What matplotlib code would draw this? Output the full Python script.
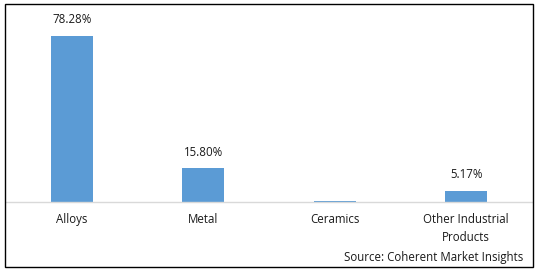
import matplotlib
matplotlib.use("Agg")
import matplotlib.pyplot as plt
from matplotlib.patches import Rectangle

categories = ["Alloys", "Metal", "Ceramics", "Other Industrial\nProducts"]
shares = [78.28, 15.80, 0.6, 5.17]
labels = ["78.28%", "15.80%", "", "5.17%"]

plt.rcParams['font.family'] = ['Open Sans', 'DejaVu Sans']

W, H = 538, 272
fig = plt.figure(figsize=(W / 100, H / 100), dpi=100)

# axes: baseline at y=202px, spans x 6..532
ax = fig.add_axes([6 / W, 1 - 202 / H, 526 / W, 182 / H])
x = range(len(categories))
bars = ax.bar(x, shares, width=0.32, color="#5b9bd5")
ax.set_xlim(-0.5, 3.5)
ax.set_ylim(0, 78.28 * 182 / 166)

for b, lab in zip(bars, labels):
    if lab:
        ax.text(b.get_x() + b.get_width() / 2, b.get_height() + 4.5, lab,
                ha="center", va="bottom", fontsize=8.3, color="#1a1a1a")

ax.set_xticks(list(x))
ax.set_xticklabels(categories, fontsize=8.3, color="#1a1a1a", linespacing=1.45)
ax.tick_params(axis="x", length=0, pad=8)
ax.set_yticks([])
for s in ["top", "right", "left"]:
    ax.spines[s].set_visible(False)
ax.spines["bottom"].set_color("#d9d9d9")
ax.spines["bottom"].set_linewidth(1)

fig.text(523 / W, 1 - 257 / H, "Source: Coherent Market Insights",
         ha="right", va="center", fontsize=8.3, color="#1a1a1a")

fig.patches.append(Rectangle((5 / W, 1 - 267 / H), 528 / W, 263 / H,
                             transform=fig.transFigure, fill=False,
                             edgecolor="black", linewidth=1))

fig.savefig("out.png", dpi=100)
